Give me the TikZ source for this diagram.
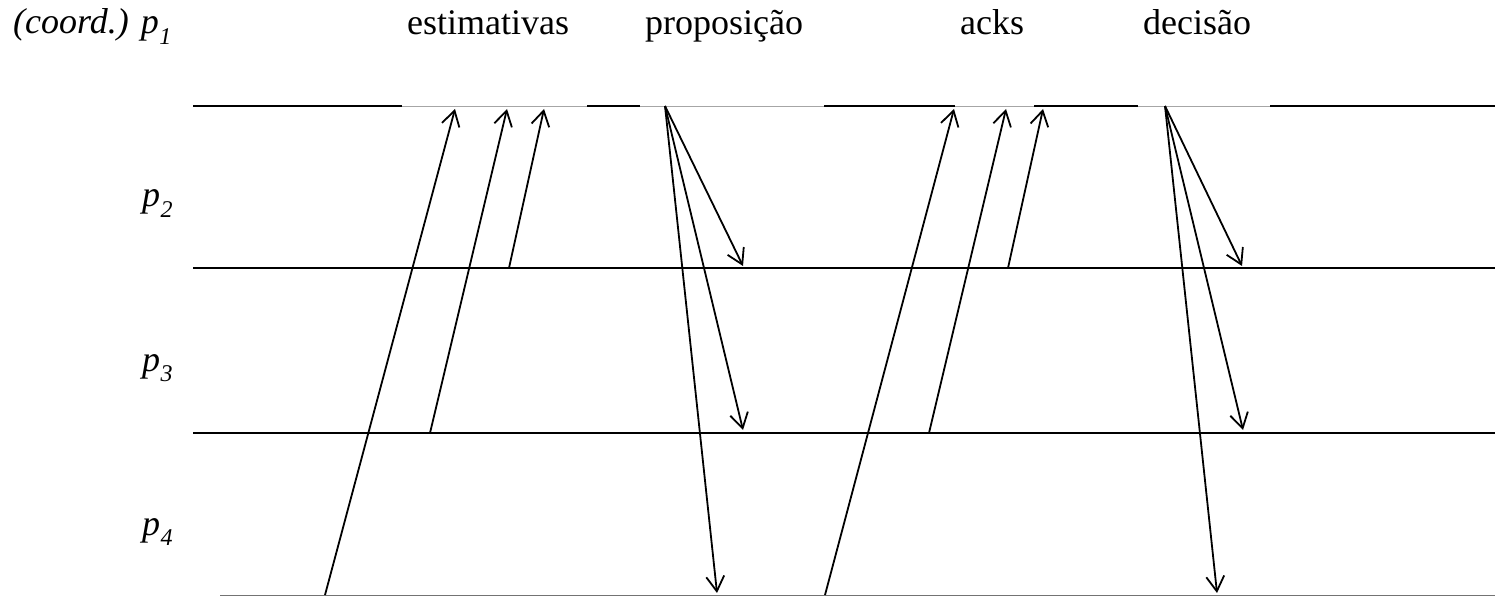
\documentclass[tikz,border=0pt]{standalone}
\usepackage{fontspec}
\setmainfont{Liberation Serif}[ItalicFont={Liberation Serif Italic}]
\usetikzlibrary{arrows.meta}
\newcommand\psub[1]{\textit{p}\kern0.5pt\raisebox{-0.3em}{\fontsize{24}{24}\selectfont\itshape #1}}
\begin{document}
\begin{tikzpicture}[x=1pt,y=-1pt,
  lbl/.style={inner sep=0pt,anchor=base west,font=\fontsize{36}{40}\selectfont},
  proc/.style={line width=1.9pt,line cap=butt},
  thin proc/.style={line width=1pt,draw=black!35},
  msg/.style={line width=1.8pt,-{Straight Barb[length=15pt,width=18pt,line width=1.8pt]}}]
\useasboundingbox (0,0) rectangle (1495,596);
% labels
\node[lbl,font=\fontsize{36}{40}\selectfont\itshape] (c1) at (13,34) {(coord.) \psub{1}};
\node[lbl] (c2) at (142,207) {\psub{2}};
\node[lbl] (c3) at (142,371) {\psub{3}};
\node[lbl] (c4) at (142,535) {\psub{4}};
\node[lbl] (est) at (407,35) {estimativas};
\node[lbl] (prop) at (645,35) {proposição};
\node[lbl] (acks) at (960,35) {acks};
\node[lbl] (dec) at (1143,35) {decisão};
% process lines
\coordinate (a1) at (193,106.7);
\coordinate (b1) at (1495,106.7);
\draw[thin proc] (a1) -- (b1);
\coordinate (s1) at (193,105.8);  \coordinate (s2) at (402,105.8);
\coordinate (s3) at (587,105.8);  \coordinate (s4) at (640,105.8);
\coordinate (s5) at (824,105.8);  \coordinate (s6) at (955,105.8);
\coordinate (s7) at (1034,105.8); \coordinate (s8) at (1138,105.8);
\coordinate (s9) at (1270,105.8); \coordinate (s10) at (1495,105.8);
\draw[proc] (s1) -- (s2) (s3) -- (s4) (s5) -- (s6) (s7) -- (s8) (s9) -- (s10);
\coordinate (a2) at (193,268); \coordinate (b2) at (1495,268);
\coordinate (a3) at (193,433); \coordinate (b3) at (1495,433);
\coordinate (a4) at (220,595.3); \coordinate (b4) at (1495,595.3);
\draw[proc] (a2) -- (b2);
\draw[proc] (a3) -- (b3);
\draw[line width=1.2pt,draw=black!55] (a4) -- (b4);
% estimativas
\coordinate (e4) at (325,595); \coordinate (e3) at (430,433); \coordinate (e2) at (509,268);
\coordinate (t1) at (455,109); \coordinate (t2) at (507,109); \coordinate (t3) at (544,109);
\draw[msg] (e4) -- (t1);
\draw[msg] (e3) -- (t2);
\draw[msg] (e2) -- (t3);
% proposicao
\coordinate (o1) at (665,106);
\coordinate (r2) at (743,266); \coordinate (r3) at (743,430); \coordinate (r4) at (717,593);
\draw[msg] (o1) -- (r2);
\draw[msg] (o1) -- (r3);
\draw[msg] (o1) -- (r4);
% acks
\coordinate (k4) at (825,595); \coordinate (k3) at (929,433); \coordinate (k2) at (1008,268);
\coordinate (u1) at (954,109); \coordinate (u2) at (1006,109); \coordinate (u3) at (1043,109);
\draw[msg] (k4) -- (u1);
\draw[msg] (k3) -- (u2);
\draw[msg] (k2) -- (u3);
% decisao
\coordinate (o2) at (1165,106);
\coordinate (d2) at (1242,266); \coordinate (d3) at (1243,430); \coordinate (d4) at (1217,593);
\draw[msg] (o2) -- (d2);
\draw[msg] (o2) -- (d3);
\draw[msg] (o2) -- (d4);
\end{tikzpicture}
\end{document}
